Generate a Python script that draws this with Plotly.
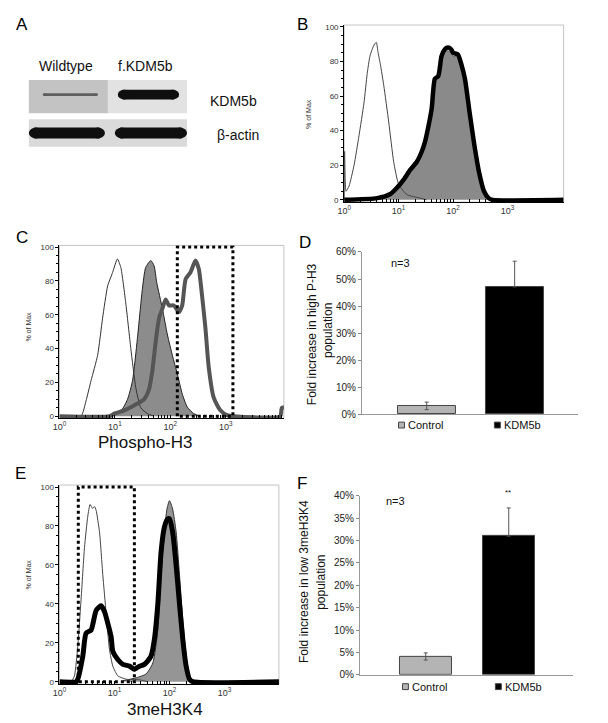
import plotly.graph_objects as go

W, H = 608, 723
FONT = "Liberation Sans, Arial, sans-serif"
NARROW = "Liberation Sans Narrow, Arial Narrow, Liberation Sans, sans-serif"


def px(x):
    return x / W


def py(y):
    return 1 - y / H


# ---------------- Panel A (western blot) ----------------
blot_lanes = ["Wildtype", "f.KDM5b"]
blot_rows = ["KDM5b", "β-actin"]
kdm5b_band = [0.6, 1.0]
actin_band = [1.0, 1.0]

# ---------------- Panel B (histogram) ----------------
b_iso_x = [1.0, 1.02, 1.08, 1.23, 1.52, 1.87, 2.31, 2.65, 2.97, 3.27, 3.6, 3.9, 4.2, 4.64, 5.34, 6.58, 8.11, 10.0, 14.2, 24.8, 32.7]
b_iso_y = [0, 28, 5, 8, 20, 37, 56, 73, 83, 87, 90, 91, 85, 78, 66, 45, 22, 9, 3, 1, 0]
b_ctrl_x = [1.0, 4.04, 7.06, 9.3, 12.3, 16.3, 21.6, 26.5, 30.5, 35.0, 40.4, 46.4, 53.4, 61.4, 70.5, 81.0, 92.0, 100, 123, 140, 165, 200, 245, 300, 370, 450, 532, 10700]
b_ctrl_y = [0, 1, 3.4, 7, 11.6, 17.3, 22, 27.8, 33.5, 42, 52.5, 69, 72, 82, 86, 86, 85, 83, 83, 79, 70, 51, 32, 16, 5, 1, 0, 0]
b_kdm_x = [1.0, 4.04, 7.06, 9.3, 12.3, 16.3, 21.6, 26.5, 30.5, 35.0, 40.4, 46.4, 53.4, 61.4, 70.5, 81.0, 92.0, 100, 123, 140, 165, 200, 245, 300, 370, 450, 532, 10700]
b_kdm_y = [0, 1, 3.4, 7, 11.6, 17.3, 22, 27.8, 33.5, 42, 52.5, 70, 71.5, 83, 87, 88, 87, 85, 84, 79, 70, 51, 32, 16, 5, 1, 0, 0]

# ---------------- Panel C (Phospho-H3) ----------------
c_iso_x = [1.0, 2.45, 3.01, 3.71, 4.88, 6.0, 7.4, 9.1, 11.1, 12.8, 15.7, 19.4, 23.8, 29.3, 38.6, 50.9]
c_iso_y = [0, 0, 9, 21, 36, 58, 77, 85, 93, 88, 67, 40, 17, 5, 1.5, 0]
c_ctrl_x = [8.4, 12.8, 16.9, 20.8, 25.5, 31.3, 36.0, 44.4, 50.9, 57.0, 72.0, 89.0, 109, 134, 165, 203, 266, 350]
c_ctrl_y = [0, 3, 10, 21, 46, 75, 88, 92, 89, 79, 63.6, 48, 36, 25, 13, 5.4, 1.5, 0]
c_kdm_x = [1.0, 8.0, 9.7, 14.7, 22.2, 33.6, 41.4, 47.5, 54.5, 62.7, 72.0, 82.5, 94.6, 116, 143, 164, 189, 231, 285, 327, 375, 431, 494, 608, 800, 1060, 1390, 9600, 10300, 11800]
c_kdm_y = [0, 0, 1.5, 3.5, 6.4, 10, 16, 27, 44, 58, 63.6, 69, 65.5, 65.5, 61.6, 65.5, 81, 85, 92, 87, 71, 52, 29, 11, 3.5, 0.6, 0, 0, 5, 5]
c_gate = [134, 1350]

# ---------------- Panel D (bars) ----------------
bar_groups = ["Control", "KDM5b"]
d_values = [3.1, 47.1]
d_err_up = [1.4, 9.5]
d_err_down = [1.4, 0]

# ---------------- Panel E (3meH3K4) ----------------
e_iso_x = [1.0, 1.63, 1.87, 2.15, 2.48, 2.85, 3.27, 3.6, 4.0, 4.33, 4.64, 5.34, 6.13, 7.06, 8.11, 9.33, 11.5, 16.3, 28.5, 40.0]
e_iso_y = [0, 0, 3, 18, 43, 69, 85, 91, 89, 90, 88, 77, 55, 35, 16.5, 8, 3, 1.3, 1, 0]
e_ctrl_x = [14.2, 24.8, 37.6, 49.9, 61.4, 70.5, 81.0, 90.0, 100, 114, 132, 152, 175, 201, 231, 265]
e_ctrl_y = [0.5, 2, 4, 9.7, 26.5, 55, 77, 88.7, 93, 88.7, 77, 55, 31.6, 13, 3, 0]
e_kdm_x = [1.0, 2.01, 2.15, 2.65, 3.05, 3.76, 4.64, 5.72, 6.58, 7.56, 8.7, 9.33, 11.5, 14.2, 18.7, 23.1, 28.5, 35.0, 46.0, 53.0, 61.4, 70.5, 81.0, 93.0, 100, 114, 132, 152, 175, 201, 231, 265, 9800]
e_kdm_y = [0, 0, 1.3, 13, 25, 26.5, 36.6, 39, 36, 30, 23, 15.6, 11.4, 8.9, 8, 6.4, 8, 8.9, 13, 21.5, 40, 67, 79.5, 83.7, 83.7, 77, 60, 40, 21.5, 8, 1.3, 0, 0]
e_gate = [2.2, 23]

# ---------------- Panel F (bars) ----------------
f_values = [4.1, 31.0]
f_err_up = [0.8, 6.3]
f_err_down = [0.8, 0]
f_signif = "**"

# ---------------- figure ----------------
fig = go.Figure()

LOG_TV = [m * 10 ** d for d in range(4) for m in range(1, 10)] + [10000]
LOG_TT = [("10<sup>%d</sup>" % d if m == 1 else "") for d in range(4) for m in range(1, 10)] + [""]


def ydom(p0, p100, lo, hi):
    s = (p0 - p100) / 100.0
    return [py(p0 - s * lo), py(p0 - s * hi)]


def facs_x(x0, x1, rmax, anchor):
    return dict(domain=[px(x0), px(x1)], type="log", range=[0, rmax], anchor=anchor,
                tickvals=LOG_TV, ticktext=LOG_TT, ticks="inside", ticklen=3, tickwidth=1,
                tickcolor="#000", showline=True, linecolor="#000", linewidth=1,
                showgrid=False, zeroline=False,
                tickfont=dict(size=9, family=FONT, color="#333"))


def facs_y(p0, p100, anchor):
    return dict(domain=ydom(p0, p100, -1.3, 101), range=[-1.3, 101], anchor=anchor,
                tickvals=[0, 20, 40, 60, 80, 100], ticks="outside", ticklen=3, tickwidth=1,
                tickcolor="#000", showline=True, linecolor="#000", linewidth=1,
                minor=dict(dtick=5, tick0=0, ticks="outside", ticklen=2, tickcolor="#000"),
                showgrid=False, zeroline=False,
                tickfont=dict(size=8, family=FONT, color="#333"))


SP = dict(mode="lines", line_shape="spline", showlegend=False, hoverinfo="skip")

# Panel B
fig.add_trace(go.Scatter(x=b_ctrl_x, y=b_ctrl_y, fill="tozeroy", fillcolor="#8a8a8a",
                         line=dict(color="#555", width=1, smoothing=0.6), xaxis="x", yaxis="y", **SP))
fig.add_trace(go.Scatter(x=b_iso_x, y=b_iso_y, line=dict(color="#444", width=1, smoothing=0.5),
                         xaxis="x", yaxis="y", **SP))
fig.add_trace(go.Scatter(x=b_kdm_x, y=b_kdm_y, line=dict(color="#000", width=4.5, smoothing=0.6),
                         xaxis="x", yaxis="y", **SP))

# Panel C
fig.add_trace(go.Scatter(x=c_ctrl_x, y=c_ctrl_y, fill="tozeroy", fillcolor="#8c8c8c",
                         line=dict(color="#222", width=1, smoothing=0.6), xaxis="x2", yaxis="y2", **SP))
fig.add_trace(go.Scatter(x=c_iso_x, y=c_iso_y, line=dict(color="#333", width=1, smoothing=0.5),
                         xaxis="x2", yaxis="y2", **SP))
fig.add_trace(go.Scatter(x=c_kdm_x, y=c_kdm_y, line=dict(color="#555", width=4, smoothing=0.6),
                         xaxis="x2", yaxis="y2", **SP))
fig.add_trace(go.Scatter(x=[c_gate[0], c_gate[0], c_gate[1], c_gate[1], c_gate[0]], y=[0, 100, 100, 0, 0],
                         mode="lines", line=dict(color="#000", width=3, dash="dot"),
                         xaxis="x2", yaxis="y2", showlegend=False, hoverinfo="skip"))

# Panel E
fig.add_trace(go.Scatter(x=e_ctrl_x, y=e_ctrl_y, fill="tozeroy", fillcolor="#959595",
                         line=dict(color="#333", width=1, smoothing=0.6), xaxis="x4", yaxis="y4", **SP))
fig.add_trace(go.Scatter(x=e_iso_x, y=e_iso_y, line=dict(color="#444", width=1, smoothing=0.5),
                         xaxis="x4", yaxis="y4", **SP))
fig.add_trace(go.Scatter(x=e_kdm_x, y=e_kdm_y, line=dict(color="#000", width=5, smoothing=0.6),
                         xaxis="x4", yaxis="y4", **SP))
fig.add_trace(go.Scatter(x=[e_gate[0], e_gate[0], e_gate[1], e_gate[1], e_gate[0]], y=[0, 100, 100, 0, 0],
                         mode="lines", line=dict(color="#000", width=3, dash="dot"),
                         xaxis="x4", yaxis="y4", showlegend=False, hoverinfo="skip"))

# Panels D and F
bar_colors = ["#b4b4b4", "#000000"]
fig.add_trace(go.Bar(x=[0, 1], y=d_values, width=0.663, xaxis="x3", yaxis="y3",
                     marker=dict(color=bar_colors, line=dict(color="#444", width=1)),
                     error_y=dict(type="data", array=d_err_up, arrayminus=d_err_down, symmetric=False,
                                  color="#555", thickness=1, width=2),
                     showlegend=False, hoverinfo="skip"))
fig.add_trace(go.Bar(x=[0, 1], y=f_values, width=0.631, xaxis="x5", yaxis="y5",
                     marker=dict(color=bar_colors, line=dict(color="#444", width=1)),
                     error_y=dict(type="data", array=f_err_up, arrayminus=f_err_down, symmetric=False,
                                  color="#555", thickness=1, width=2),
                     showlegend=False, hoverinfo="skip"))


def bar_y(p0, ptop, vmax, dtick, anchor):
    return dict(domain=[py(p0), py(ptop)], range=[0, vmax], anchor=anchor, dtick=dtick,
                ticksuffix="%", ticks="outside", ticklen=3, tickcolor="#888",
                showline=True, linecolor="#999", linewidth=1, showgrid=False, zeroline=False,
                tickfont=dict(size=10, family=NARROW, color="#222"))


def bar_x(x0, x1, r, anchor):
    return dict(domain=[px(x0), px(x1)], range=r, anchor=anchor, showticklabels=False,
                ticks="", showline=True, linecolor="#999", linewidth=1, showgrid=False, zeroline=False)


fig.update_layout(
    width=W, height=H, margin=dict(l=0, r=0, t=0, b=0), autosize=False,
    paper_bgcolor="white", plot_bgcolor="rgba(0,0,0,0)", bargap=0,
    xaxis=facs_x(333, 555, 4.03, "y"), yaxis=facs_y(189, 13, "x"),
    xaxis2=facs_x(45, 272, 4.05, "y2"), yaxis2=facs_y(409, 237, "x2"),
    xaxis4=facs_x(45, 267, 3.99, "y4"), yaxis4=facs_y(679, 481, "x4"),
    xaxis3=bar_x(351, 570, [-0.736, 1.725], "y3"), yaxis3=bar_y(407, 242, 60, 10, "x3"),
    xaxis5=bar_x(349, 565, [-0.792, 1.78], "y5"), yaxis5=bar_y(672, 490, 40, 5, "x5"),
)

shapes = []
# light grey frames on FACS plots
for (x0, x1, y0, y1) in [(333, 555, 191.3, 11.2), (45, 272, 411.2, 235.3), (45, 267, 681.6, 479)]:
    shapes.append(dict(type="rect", xref="paper", yref="paper", x0=px(x0), x1=px(x1), y0=py(y0), y1=py(y1),
                       line=dict(color="#c4c4c4", width=1), layer="below"))

# blot boxes
shapes.append(dict(type="rect", xref="paper", yref="paper", x0=px(14), x1=px(94), y0=py(101), y1=py(67),
                   fillcolor="#c3c3c3", line=dict(width=0), layer="below"))
shapes.append(dict(type="rect", xref="paper", yref="paper", x0=px(94), x1=px(174), y0=py(101), y1=py(67),
                   fillcolor="#e2e2e2", line=dict(width=0), layer="below"))
shapes.append(dict(type="rect", xref="paper", yref="paper", x0=px(14), x1=px(174), y0=py(135), y1=py(107),
                   fillcolor="#dadada", line=dict(width=0), layer="below"))


def band(x0, x1, yc, h, intensity):
    g = int(round(15 + 200 * (1 - intensity)))
    col = "rgb(%d,%d,%d)" % (g, g, g)
    r = h / 2.0
    out = [dict(type="rect", xref="paper", yref="paper", x0=px(x0 + r), x1=px(x1 - r),
                y0=py(yc + r), y1=py(yc - r), fillcolor=col, line=dict(width=0)),
           dict(type="circle", xref="paper", yref="paper", x0=px(x0), x1=px(x0 + 2.6 * r),
                y0=py(yc + r), y1=py(yc - r), fillcolor=col, line=dict(width=0)),
           dict(type="circle", xref="paper", yref="paper", x0=px(x1 - 2.6 * r), x1=px(x1),
                y0=py(yc + r), y1=py(yc - r), fillcolor=col, line=dict(width=0))]
    return out


lane_x = [(28, 84), (104, 166)]
for i, (a, b) in enumerate(lane_x):
    shapes += band(a, b, 82, 3 + 7 * (kdm5b_band[i] - 0.6) / 0.4, kdm5b_band[i])
actin_x = [(14, 91), (101, 174)]
for i, (a, b) in enumerate(actin_x):
    shapes += band(a, b, 121, 11 * actin_band[i], actin_band[i])

# legend squares under bars
for (x0, yc, col) in [(388, 418, "#b4b4b4"), (485, 418, "#000"), (392, 684, "#b4b4b4"), (486, 684, "#000")]:
    shapes.append(dict(type="rect", xref="paper", yref="paper", x0=px(x0), x1=px(x0 + 6),
                       y0=py(yc + 3), y1=py(yc - 3), fillcolor=col, line=dict(color="#444", width=1)))

fig.update_layout(shapes=shapes)


def ann(text, x, y, size, angle=0, family=FONT, color="#000", xanchor="center"):
    return dict(text=text, x=px(x), y=py(y), xref="paper", yref="paper", showarrow=False,
                font=dict(size=size, family=family, color=color), textangle=angle,
                xanchor=xanchor, yanchor="middle")


anns = [
    ann("A", 7, 11, 17), ann("B", 291, 11, 17), ann("C", 7, 227, 17),
    ann("D", 293, 232, 17), ann("E", 6, 467, 17), ann("F", 290, 477, 17),
    ann(blot_lanes[0], 52, 53, 14, color="#111"), ann(blot_lanes[1], 132, 53, 14, color="#111"),
    ann(blot_rows[0], 221, 88, 14, color="#111"), ann(blot_rows[1], 226, 123, 14, color="#111"),
    ann("% of Max", 297, 102, 7, angle=-90, color="#333"),
    ann("% of Max", 14, 318, 7, angle=-90, color="#333"),
    ann("% of Max", 14, 570, 7, angle=-90, color="#333"),
    ann("Phospho-H3", 132, 436, 17, color="#111"),
    ann("3meH3K4", 152, 707, 17, color="#111"),
    ann("Fold increase in high P-H3", 300, 326, 12, angle=-90, color="#111"),
    ann("population", 316, 322, 12, angle=-90, color="#111"),
    ann("Fold increase in low 3meH3K4", 293, 577, 12, angle=-90, color="#111"),
    ann("population", 310, 578, 12, angle=-90, color="#111"),
    ann("n=3", 390, 253, 11, color="#111"),
    ann("n=3", 385, 495, 11, color="#111"),
    ann(f_signif, 499, 487, 8, color="#111"),
    ann(bar_groups[0], 396, 418, 11, family=NARROW, color="#111", xanchor="left"),
    ann(bar_groups[1], 493, 418, 11, family=NARROW, color="#111", xanchor="left"),
    ann(bar_groups[0], 400, 684, 11, family=NARROW, color="#111", xanchor="left"),
    ann(bar_groups[1], 494, 684, 11, family=NARROW, color="#111", xanchor="left"),
]
fig.update_layout(annotations=anns)

fig.write_html("out.html")
